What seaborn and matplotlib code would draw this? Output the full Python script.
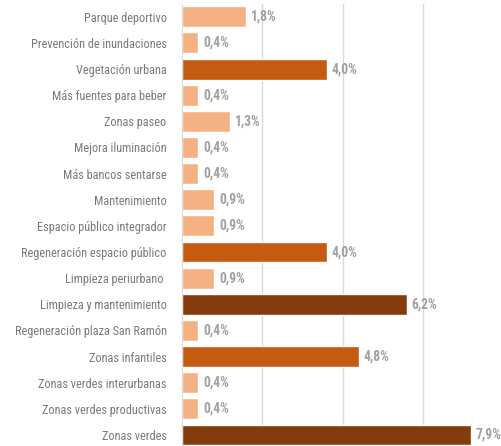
import matplotlib
matplotlib.use("Agg")
import matplotlib.pyplot as plt
import pandas as pd
import seaborn as sns
from matplotlib import font_manager

categories = [
    "Parque deportivo",
    "Prevención de inundaciones",
    "Vegetación urbana",
    "Más fuentes para beber",
    "Zonas paseo",
    "Mejora iluminación",
    "Más bancos sentarse",
    "Mantenimiento",
    "Espacio público integrador",
    "Regeneración espacio público",
    "Limpieza periurbano ",
    "Limpieza y mantenimiento",
    "Regeneración plaza San Ramón",
    "Zonas infantiles",
    "Zonas verdes interurbanas",
    "Zonas verdes productivas",
    "Zonas verdes",
]
counts = [4, 1, 9, 1, 3, 1, 1, 2, 2, 9, 2, 14, 1, 11, 1, 1, 18]
pct_labels = ["1,8%", "0,4%", "4,0%", "0,4%", "1,3%", "0,4%", "0,4%", "0,9%", "0,9%",
              "4,0%", "0,9%", "6,2%", "0,4%", "4,8%", "0,4%", "0,4%", "7,9%"]
tiers = ["bajo", "bajo", "medio", "bajo", "bajo", "bajo", "bajo", "bajo", "bajo",
         "medio", "bajo", "alto", "bajo", "medio", "bajo", "bajo", "alto"]
tier_colors = {"bajo": "#F4B183", "medio": "#C55A11", "alto": "#843C0C"}

df = pd.DataFrame({"categoria": categories, "n": counts, "nivel": tiers})

# pick the narrowest sans family that is installed
available = {f.name for f in font_manager.fontManager.ttflist}
narrow = next((f for f in ["Roboto Condensed", "Liberation Sans Narrow", "Roboto"]
               if f in available), "DejaVu Sans")
condensed = narrow in ("Roboto Condensed", "Liberation Sans Narrow")
label_size = 8.8 if condensed else 7.2
value_size = 9.8 if condensed else 8

sns.set_style("white")
plt.rcParams["font.family"] = [narrow, "DejaVu Sans"]

fig = plt.figure(figsize=(5.02, 4.46), dpi=100)
ax = fig.add_axes([182 / 502, -0.0047, 320 / 502, 0.9964])

sns.barplot(data=df, x="n", y="categoria", hue="nivel", palette=tier_colors,
            dodge=False, legend=False, width=0.8, saturation=1, ax=ax)

for i, (n, lab) in enumerate(zip(counts, pct_labels)):
    ax.text(n + 0.3, i, lab, va="center", ha="left", fontsize=value_size,
            fontweight="bold", color="#a0a0a0")

ax.set_xlim(0, 320 / 16.06)
ax.set_ylim(16.5, -0.5)
ax.set_xticks([5, 10, 15])
ax.xaxis.grid(True, color="#d9d9d9", linewidth=1)
ax.set_axisbelow(True)
ax.tick_params(axis="both", length=0)
ax.set_xticklabels([])
ax.tick_params(axis="y", labelsize=label_size, labelcolor="#7a7a7a", pad=11)
ax.set_xlabel("")
ax.set_ylabel("")
for side in ["top", "right", "bottom"]:
    ax.spines[side].set_visible(False)
ax.spines["left"].set_color("#d9d9d9")

fig.savefig("out.png", dpi=100)
